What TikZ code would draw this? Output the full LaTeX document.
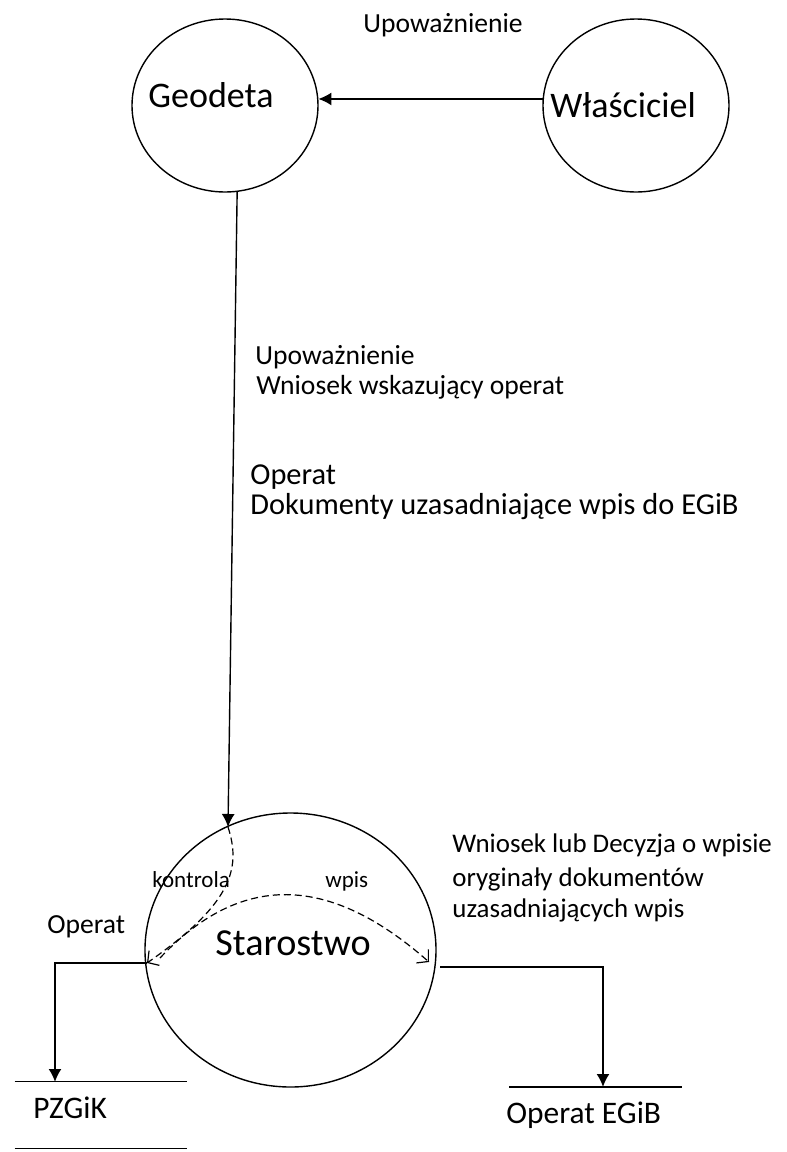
\documentclass[tikz,border=0pt]{standalone}
\usepackage{fontspec}
\setmainfont{Carlito}
\usetikzlibrary{positioning, shapes.geometric, arrows.meta}
\tikzset{
proc/.style={draw, ellipse, line width=0.7pt, inner sep=0pt, minimum width=93pt, minimum height=86.5pt},
txt/.style={anchor=base west, inner sep=0pt},
big/.style={txt, font=\fontsize{18}{18}\selectfont},
lbl/.style={txt, font=\fontsize{13.8}{14}\selectfont},
lblbig/.style={txt, font=\fontsize{15.2}{15}\selectfont},
lblright/.style={txt, font=\fontsize{13.45}{14}\selectfont},
storetxt/.style={txt, font=\fontsize{15.7}{15.7}\selectfont},
small/.style={txt, font=\fontsize{11.5}{11.5}\selectfont},
flow/.style={line width=0.7pt, -{Latex[length=6.5pt,width=6.5pt]}},
ctrl/.style={line width=0.6pt, dash pattern=on 3.5pt off 2pt, -{Straight Barb[length=4pt,width=9pt]}},
}

\begin{document}
\begin{tikzpicture}[x=0.5pt, y=-0.5pt]
    \useasboundingbox (0,0) rectangle (787,1152);

    %processes
    \node[proc] (geodeta) at (225,105.5) { };
    \node[proc] (wlasciciel) at (636,105.5) { };
    \node[proc, minimum width=145.5pt, minimum height=137pt] (starostwo) at (290.5,950) { };

    \node[big] (geodetaTxt) at (148,107) {Geodeta};
    \node[big] (wlascicielTxt) at (550,117) {Właściciel};
    \node[big, font=\fontsize{19.1}{19.1}\selectfont] (starostwoTxt) at (215,955) {Starostwo};

    %stores
    \node[draw=none, minimum width=86pt, minimum height=33pt, inner sep=0pt] (pzgik) at (101,1115) { };
    \draw[line width=0.7pt] (pzgik.north west) -- (pzgik.north east);
    \draw[line width=0.7pt] (pzgik.south west) -- (pzgik.south east);
    \node[storetxt] (pzgikTxt) at (33,1118) {PZGiK};

    \coordinate (egibL) at (509,1087);
    \coordinate (egibR) at (682,1087);
    \draw[line width=0.7pt] (egibL) -- (egibR);
    \node[storetxt] (egibTxt) at (506,1123) {Operat EGiB};

    %flow labels
    \node[lbl] (upowTop) at (363,32) {Upoważnienie};
    \node[lbl] (upow) at (255,364) {Upoważnienie};
    \node[lbl] (wniosek) at (256,394) {Wniosek wskazujący operat};
    \node[lblbig] (operat) at (250,484) {Operat};
    \node[lblbig] (dokumenty) at (250,514) {Dokumenty uzasadniające wpis do EGiB};
    \node[lblright] (decyzja1) at (452,852) {Wniosek lub Decyzja o wpisie};
    \node[lblright] (decyzja2) at (452,886) {oryginały dokumentów};
    \node[lblright] (decyzja3) at (452,917) {uzasadniających wpis};
    \node[lbl] (operatOut) at (47,933) {Operat};
    \node[small] (kontrolaTxt) at (152,887) {kontrola};
    \node[small] (wpisTxt) at (325,887) {wpis};

    %points on Starostwo
    \coordinate (sIn) at (228,827);
    \coordinate (sLeft) at (147,963);
    \coordinate (sRight) at (440,967);
    \coordinate (wpisStart) at (160,958);
    \coordinate (wpisEnd) at (429,962);
    \coordinate (pzgikIn) at (55,1082);
    \coordinate (egibIn) at (603,1087);

    %flows
    \draw[flow] (wlasciciel.176) -- (geodeta.4);
    \draw[flow] (geodeta.-82) -- (sIn);
    \draw[flow, line width=0.9pt] (sLeft) -| (pzgikIn);
    \draw[flow, line width=0.9pt] (sRight) -| (egibIn);

    %inside Starostwo
    \draw[ctrl] (sIn) .. controls (242,870) and (230,905) .. (sLeft);
    \draw[ctrl] (wpisStart) .. controls (240,873) and (328,873) .. (wpisEnd);
\end{tikzpicture}
\end{document}
